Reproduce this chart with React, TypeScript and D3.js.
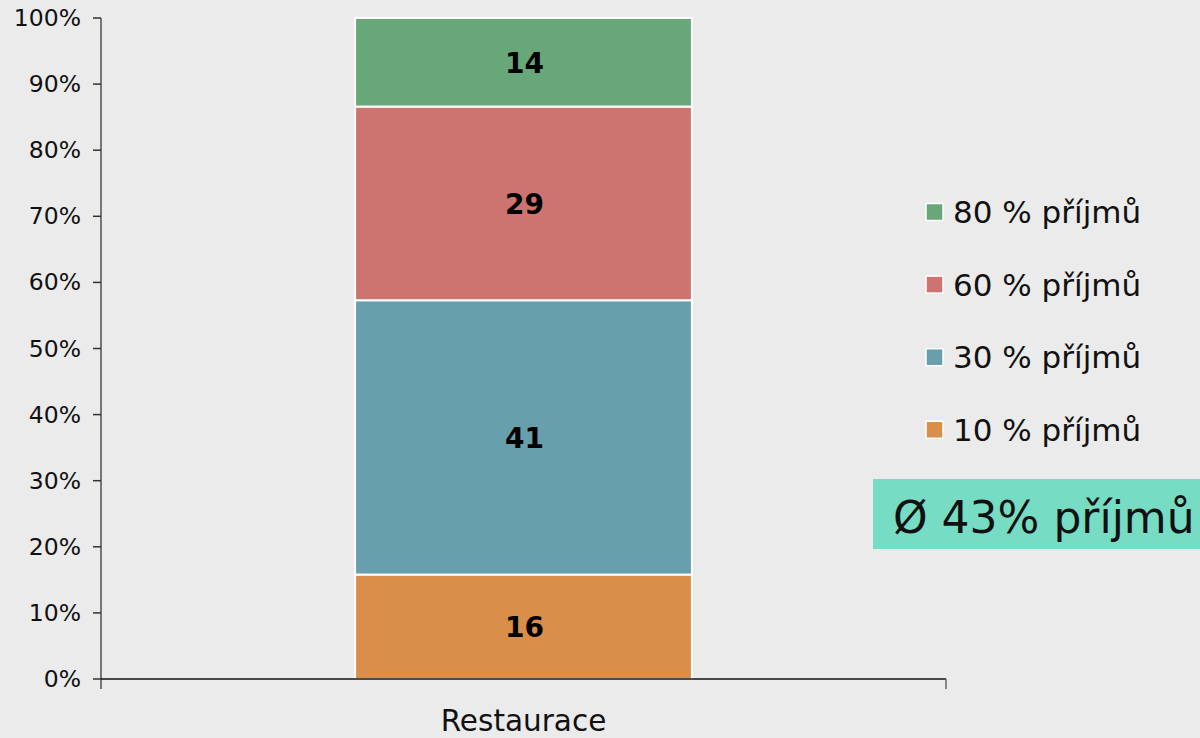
import React from 'react';
import * as d3 from 'd3';

// data
const categories = ['Restaurace'];
const seriesNames = ['10 % příjmů', '30 % příjmů', '60 % příjmů', '80 % příjmů'];
const seriesColors = ['#d98f4a', '#689fad', '#cd7470', '#68a878'];
const shares = [15.8, 41.5, 29.3, 13.4]; // share of the bar, in %
const labels = ['16', '41', '29', '14'];
const yTicks = [0, 10, 20, 30, 40, 50, 60, 70, 80, 90, 100];
const averageText = 'Ø 43% příjmů';

const W = 1200;
const H = 738;
const margin = { top: 18, right: 254, bottom: 59, left: 101 };
const font = '"DejaVu Sans", Verdana, sans-serif';

const App = () => {
  const x = d3.scaleBand()
    .domain(categories)
    .range([margin.left, W - margin.right])
    .padding(0.43);

  const y = d3.scaleLinear()
    .domain([0, 100])
    .range([H - margin.bottom, margin.top]);

  // stack the segments
  const stacked = shares.map((v, i) => {
    const start = d3.sum(shares.slice(0, i));
    return { v, start, end: start + v, color: seriesColors[i], label: labels[i] };
  });

  const bx = x(categories[0]) as number;
  const bw = x.bandwidth();
  const baseY = y(0);

  const legendTop = 212;
  const legendStep = 72.6;

  return (
    <svg width={W} height={H} style={{ position: 'absolute', left: 0, top: 0, display: 'block' }}>
      <rect x={0} y={0} width={W} height={H} fill="#ebebeb" />

      {/* bars */}
      {stacked.map((s, i) => (
        <g key={i}>
          <rect
            x={bx}
            y={y(s.end)}
            width={bw}
            height={y(s.start) - y(s.end)}
            fill={s.color}
            stroke="#ffffff"
            strokeWidth={2}
          />
          <text
            x={bx + bw / 2 + 1}
            y={(y(s.start) + y(s.end)) / 2 + 1}
            textAnchor="middle"
            dominantBaseline="central"
            fontFamily={font}
            fontWeight="bold"
            fontSize={28}
            fill="#000"
          >
            {s.label}
          </text>
        </g>
      ))}

      {/* y axis */}
      <line x1={margin.left} x2={margin.left} y1={y(100)} y2={baseY + 10} stroke="#777" strokeWidth={2} />
      {yTicks.map(t => (
        <g key={t}>
          <line x1={margin.left - 8} x2={margin.left} y1={y(t)} y2={y(t)} stroke="#333" strokeWidth={1.5} />
          <text
            x={margin.left - 20}
            y={y(t)}
            textAnchor="end"
            dominantBaseline="central"
            fontFamily={font}
            fontSize={23.5}
            fill="#111"
          >
            {t}%
          </text>
        </g>
      ))}

      {/* x axis */}
      <line x1={margin.left} x2={W - margin.right} y1={baseY} y2={baseY} stroke="#111" strokeWidth={1.5} />
      <line x1={W - margin.right} x2={W - margin.right} y1={baseY} y2={baseY + 10} stroke="#666" strokeWidth={1.5} />
      {categories.map(c => (
        <text
          key={c}
          x={(x(c) as number) + bw / 2}
          y={731}
          textAnchor="middle"
          fontFamily={font}
          fontSize={29.5}
          fill="#111"
        >
          {c}
        </text>
      ))}

      {/* legend, top entry is the last series */}
      {seriesNames.slice().reverse().map((name, i) => {
        const cy = legendTop + i * legendStep;
        const color = seriesColors[seriesNames.length - 1 - i];
        return (
          <g key={name}>
            <rect x={926} y={cy - 8.5} width={17} height={17} fill={color} stroke="#ffffff" strokeWidth={1.5} />
            <text
              x={953}
              y={cy}
              dominantBaseline="central"
              fontFamily={font}
              fontSize={31}
              fill="#111"
            >
              {name}
            </text>
          </g>
        );
      })}

      {/* average box */}
      <rect x={873} y={479} width={W - 873} height={70} fill="#77dcc4" />
      <text x={893} y={533} fontFamily={font} fontSize={44} fill="#111">
        {averageText}
      </text>
    </svg>
  );
};

export default App;
